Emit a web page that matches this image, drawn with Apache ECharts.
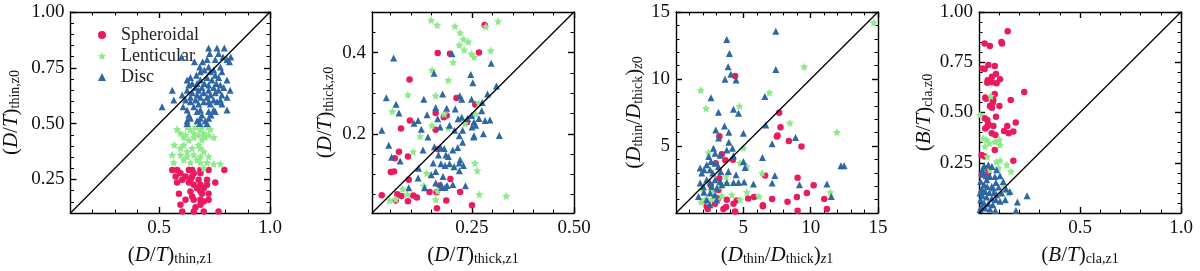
<!DOCTYPE html>
<html><head><meta charset="utf-8">
<script src="https://cdn.jsdelivr.net/npm/echarts@6/dist/echarts.min.js"></script>
<style>html,body{margin:0;padding:0;background:#fff}#c{width:1200px;height:271px}</style>
</head><body><div id="c"></div><script>
const seriesNames = ['Spheroidal', 'Lenticular', 'Disc'];

// Panel 1: (D/T)_thin
const sph1 = [[0.559,0.293],[0.581,0.293],[0.634,0.293],[0.649,0.293],[0.686,0.293],[0.723,0.293],[0.794,0.293],
[0.596,0.278],[0.656,0.278],[0.686,0.278],[0.574,0.263],[0.619,0.263],[0.649,0.263],
[0.604,0.249],[0.641,0.249],[0.678,0.249],[0.716,0.249],[0.581,0.237],[0.634,0.237],[0.753,0.237],
[0.656,0.226],[0.686,0.226],[0.716,0.226],[0.671,0.211],[0.701,0.211],[0.641,0.196],[0.686,0.196],
[0.589,0.186],[0.693,0.186],[0.723,0.186],[0.649,0.174],[0.619,0.159],[0.656,0.159],[0.686,0.159],[0.723,0.159],
[0.701,0.152],[0.596,0.137],[0.686,0.137],[0.664,0.126],[0.604,0.107],[0.656,0.107],[0.701,0.107],[0.768,0.107]];
const lent1 = [[0.626,0.484],[0.664,0.484],[0.693,0.484],[0.719,0.484],[0.581,0.475],[0.641,0.475],[0.686,0.475],[0.731,0.475],
[0.596,0.457],[0.656,0.457],[0.701,0.457],[0.619,0.449],[0.678,0.449],[0.723,0.449],
[0.611,0.439],[0.656,0.439],[0.708,0.439],[0.746,0.439],[0.634,0.427],[0.693,0.427],
[0.569,0.405],[0.611,0.405],[0.678,0.405],[0.596,0.390],[0.649,0.390],[0.686,0.390],[0.626,0.375],[0.701,0.375],
[0.559,0.360],[0.596,0.360],[0.656,0.360],[0.626,0.353],[0.686,0.353],[0.723,0.353],[0.611,0.338],[0.671,0.338],
[0.566,0.326],[0.641,0.326],[0.686,0.326],[0.716,0.326],[0.746,0.320],[0.776,0.320],[0.701,0.301]];
const disc1 = [[0.723,0.839],[0.761,0.839],[0.794,0.839],[0.728,0.814],[0.768,0.814],
[0.601,0.799],[0.788,0.799],[0.823,0.799],[0.716,0.787],[0.753,0.787],[0.806,0.787],
[0.659,0.777],[0.696,0.777],[0.817,0.777],[0.683,0.754],[0.723,0.754],[0.776,0.754],
[0.704,0.740],[0.746,0.740],[0.686,0.732],[0.731,0.732],[0.783,0.732],[0.668,0.717],[0.753,0.717],
[0.641,0.707],[0.716,0.707],[0.768,0.707],[0.626,0.695],[0.686,0.695],[0.738,0.695],[0.806,0.695],
[0.649,0.680],[0.671,0.680],[0.704,0.680],[0.758,0.680],[0.634,0.673],[0.723,0.673],[0.776,0.673],
[0.664,0.662],[0.693,0.662],[0.746,0.662],[0.791,0.662],
[0.559,0.650],[0.626,0.650],[0.678,0.650],[0.723,0.650],[0.768,0.650],[0.820,0.650],
[0.649,0.638],[0.701,0.638],[0.753,0.638],[0.604,0.628],[0.671,0.628],[0.731,0.628],[0.783,0.628],
[0.641,0.618],[0.686,0.618],[0.716,0.618],[0.806,0.618],
[0.566,0.606],[0.619,0.606],[0.664,0.606],[0.746,0.606],[0.776,0.606],
[0.641,0.598],[0.701,0.598],[0.723,0.598],[0.761,0.598],[0.678,0.588],[0.731,0.588],[0.783,0.588],
[0.513,0.576],[0.608,0.576],[0.656,0.576],[0.626,0.561],[0.686,0.561],[0.746,0.561],[0.806,0.561],
[0.671,0.554],[0.723,0.554],[0.753,0.554],[0.634,0.539],[0.693,0.539],[0.734,0.539],
[0.641,0.524],[0.686,0.524],[0.723,0.524],[0.626,0.513],[0.671,0.513],[0.708,0.513],
[0.626,0.501],[0.683,0.501],[0.716,0.501]];

// Panel 2: (D/T)_thick
const sph2 = [[0.281,0.468],[0.166,0.399],[0.267,0.400],[0.196,0.397],[0.097,0.334],[0.212,0.288],[0.258,0.272],
[0.161,0.251],[0.181,0.241],[0.188,0.245],[0.098,0.233],[0.076,0.213],[0.161,0.210],[0.238,0.229],
[0.071,0.156],[0.093,0.144],[0.061,0.140],[0.167,0.162],[0.051,0.106],[0.059,0.107],[0.095,0.087],[0.197,0.089],[0.171,0.073],
[0.029,0.049],[0.067,0.051],[0.077,0.047],[0.063,0.036],[0.093,0.034],[0.106,0.048],[0.115,0.043],
[0.146,0.057],[0.163,0.056],[0.221,0.057],[0.187,0.036],[0.164,0.017],[0.250,0.024]];
const lent2 = [[0.150,0.480],[0.165,0.468],[0.208,0.465],[0.221,0.449],[0.229,0.433],[0.241,0.427],[0.219,0.419],
[0.231,0.407],[0.249,0.397],[0.255,0.389],[0.204,0.376],[0.296,0.405],[0.314,0.477],[0.284,0.464],
[0.192,0.332],[0.152,0.357],[0.093,0.296],[0.161,0.294],[0.055,0.255],[0.182,0.249],[0.152,0.221],
[0.123,0.194],[0.106,0.156],[0.192,0.214],[0.233,0.225],[0.259,0.249],[0.267,0.275],
[0.207,0.119],[0.257,0.128],[0.263,0.109],[0.139,0.103],[0.132,0.072],[0.080,0.064],[0.092,0.051],
[0.166,0.059],[0.161,0.038],[0.048,0.036],[0.063,0.039],[0.268,0.051],[0.334,0.047]];
const disc2 = [[0.058,0.387],[0.201,0.397],[0.157,0.349],[0.247,0.346],[0.252,0.326],
[0.040,0.289],[0.064,0.273],[0.071,0.251],[0.132,0.285],[0.178,0.298],[0.161,0.265],[0.188,0.263],
[0.220,0.294],[0.225,0.285],[0.249,0.285],[0.275,0.277],[0.288,0.298],[0.310,0.318],[0.297,0.374],
[0.118,0.233],[0.140,0.247],[0.166,0.237],[0.209,0.261],[0.225,0.241],[0.239,0.238],[0.249,0.245],
[0.255,0.229],[0.259,0.221],[0.267,0.238],[0.274,0.257],[0.282,0.233],[0.294,0.234],[0.278,0.200],
[0.029,0.209],[0.108,0.226],[0.126,0.211],[0.142,0.192],[0.172,0.217],[0.195,0.221],[0.207,0.209],
[0.216,0.237],[0.219,0.195],[0.227,0.209],[0.254,0.192],[0.250,0.217],[0.255,0.195],[0.317,0.196],
[0.046,0.172],[0.053,0.142],[0.074,0.133],[0.130,0.160],[0.158,0.168],[0.173,0.166],[0.182,0.164],
[0.203,0.160],[0.215,0.166],[0.227,0.179],[0.168,0.148],[0.186,0.148],[0.192,0.144],[0.221,0.136],
[0.119,0.115],[0.118,0.091],[0.155,0.128],[0.161,0.107],[0.174,0.126],[0.184,0.122],[0.195,0.126],
[0.206,0.119],[0.219,0.128],[0.229,0.122],[0.219,0.109],[0.179,0.095],[0.150,0.099],
[0.161,0.079],[0.174,0.075],[0.176,0.068],[0.184,0.068],[0.189,0.073],[0.203,0.075],[0.234,0.072],
[0.095,0.067],[0.134,0.067]];

// Panel 3: D_thin / D_thick
const sph3 = [[4.39,10.22],[7.66,7.49],[7.76,6.40],[7.54,5.78],[7.49,5.70],[8.38,5.38],[9.32,4.96],[3.22,5.73],
[3.40,4.39],[3.67,3.94],[2.95,3.72],[4.22,3.97],[3.22,2.60],[6.62,2.80],[9.03,2.63],[10.22,2.08],
[9.72,1.49],[8.98,1.19],[11.01,1.04],[11.21,0.30],[9.03,0.17],[8.28,0.84],[7.14,1.04],[5.80,1.19],
[5.36,1.09],[6.45,0.57],[6.45,0.50],[4.51,0.94],[4.27,0.69],[3.52,0.30],[3.72,0.45],[4.39,0.12],
[2.28,0.50],[2.36,0.30],[2.90,0.69],[3.77,0.99],[3.15,1.12],[2.58,2.08],[3.15,1.71]];
const lent3 = [[14.68,14.21],[9.52,10.91],[6.94,8.98],[1.83,9.17],[2.23,7.81],[4.71,7.98],[8.46,6.72],[11.95,6.03],
[2.41,4.51],[5.01,4.86],[4.76,3.72],[5.26,3.47],[6.40,2.98],[3.77,2.23],[3.27,1.98],[4.14,1.36],
[5.26,1.56],[6.15,1.24],[4.76,0.99],[11.46,1.54],[1.86,0.84],[2.16,0.99],[2.41,0.87],[2.70,1.04],
[3.07,0.99],[3.40,1.29],[2.65,1.61],[3.72,2.73],[2.03,1.61]];
const disc3 = [[7.41,13.56],[3.77,12.94],[3.97,11.90],[3.87,10.91],[7.41,10.71],[4.07,10.36],[3.64,9.99],[4.46,9.92],
[2.60,8.60],[6.60,8.70],[4.27,7.74],[4.64,7.44],[3.15,7.51],[3.60,6.50],[6.67,6.57],[2.95,6.20],
[3.92,6.03],[5.01,5.95],[3.17,5.60],[8.88,5.63],[3.92,5.28],[2.78,4.84],[3.77,4.71],[4.19,4.84],
[2.90,4.46],[2.43,4.22],[3.27,4.31],[4.27,4.27],[7.14,5.16],[6.42,4.14],
[2.60,3.84],[2.90,3.72],[2.28,3.60],[3.15,3.47],[2.08,3.22],[2.53,3.22],[3.32,3.10],[1.79,3.35],
[1.91,2.98],[2.73,2.98],[3.89,3.10],[5.01,3.84],[5.13,3.40],[4.46,2.85],[2.28,2.48],[2.53,2.28],
[2.90,2.48],[3.27,2.36],[1.79,2.23],[2.03,1.98],[2.65,1.98],[3.03,1.86],[3.40,2.11],[3.77,2.28],
[4.27,2.28],[4.64,2.28],[5.06,2.31],[5.75,2.16],[7.34,2.80],[7.14,2.23],[9.17,2.11],[11.21,2.16],
[11.53,1.24],[12.25,3.52],[12.48,3.52],[2.53,1.49],[2.90,1.36],[2.08,1.54],[2.28,0.99],[1.67,1.24],
[3.03,0.99],[2.53,0.62]];

// Panel 4: (B/T)_cla
const sph4 = [[0.142,0.904],[0.111,0.851],[0.114,0.843],[0.028,0.843],[0.054,0.831],[0.017,0.719],[0.028,0.716],
[0.046,0.736],[0.078,0.731],[0.084,0.691],[0.064,0.678],[0.104,0.666],[0.043,0.661],[0.041,0.648],[0.064,0.650],
[0.087,0.645],[0.224,0.602],[0.078,0.592],[0.031,0.575],[0.035,0.569],[0.071,0.562],[0.068,0.549],[0.054,0.532],
[0.064,0.524],[0.101,0.532],[0.157,0.562],[0.084,0.479],[0.028,0.471],[0.041,0.463],[0.046,0.443],[0.041,0.430],
[0.031,0.421],[0.071,0.433],[0.063,0.397],[0.081,0.388],[0.124,0.408],[0.140,0.433],[0.147,0.397],[0.170,0.405],
[0.182,0.450],[0.078,0.314],[0.013,0.289],[0.028,0.281],[0.170,0.260],[0.041,0.223],[0.013,0.190],[0.045,0.195]];
const lent4 = [[0.058,0.582],[0.005,0.488],[0.021,0.372],[0.038,0.364],[0.051,0.347],[0.079,0.355],[0.101,0.364],
[0.104,0.339],[0.030,0.331],[0.041,0.281],[0.087,0.256],[0.104,0.261],[0.137,0.240],[0.158,0.207],[0.097,0.223],
[0.120,0.140],[0.147,0.099],[0.054,0.215]];
const disc4 = [[0.025,0.235],[0.046,0.240],[0.064,0.231],[0.087,0.215],[0.017,0.198],[0.035,0.185],[0.054,0.182],
[0.079,0.182],[0.104,0.185],[0.084,0.152],[0.120,0.157],[0.008,0.157],[0.025,0.140],[0.041,0.132],[0.063,0.132],
[0.097,0.129],[0.134,0.119],[0.012,0.119],[0.031,0.107],[0.051,0.102],[0.074,0.102],[0.087,0.091],[0.112,0.099],
[0.153,0.107],[0.018,0.086],[0.038,0.079],[0.063,0.074],[0.084,0.066],[0.104,0.058],[0.130,0.066],[0.008,0.066],
[0.025,0.050],[0.046,0.046],[0.068,0.041],[0.013,0.033],[0.031,0.025],[0.054,0.020],[0.081,0.013],[0.005,0.017],
[0.190,0.055],[0.238,0.086],[0.183,0.013],[0.071,0.124],[0.021,0.107],[0.005,0.099],[0.038,0.165],[0.017,0.215]];

const panelData = [[sph1, lent1, disc1], [sph2, lent2, disc2], [sph3, lent3, disc3], [sph4, lent4, disc4]];

// Axis ranges and ticks
const axisRanges = [[0.1, 1.0], [0.005, 0.5], [0, 15], [0, 1.0]];
const xMajorTicks = [[0.5, 1.0], [0.25, 0.5], [5, 10, 15], [0.5, 1.0]];
const xMajorLabels = [['0.5', '1.0'], ['0.25', '0.50'], ['5', '10', '15'], ['0.5', '1.0']];
const yMajorTicks = [[0.25, 0.5, 0.75, 1.0], [0.2, 0.4], [5, 10, 15], [0.25, 0.5, 0.75, 1.0]];
const yMajorLabels = [['0.25', '0.50', '0.75', '1.00'], ['0.2', '0.4'], ['5', '10', '15'], ['0.25', '0.50', '0.75', '1.00']];
const xMinorTicks = [
  [0.2, 0.3, 0.4, 0.6, 0.7, 0.8, 0.9],
  [0.05, 0.1, 0.15, 0.2, 0.3, 0.35, 0.4, 0.45],
  [1, 2, 3, 4, 6, 7, 8, 9, 11, 12, 13, 14],
  [0.1, 0.2, 0.3, 0.4, 0.6, 0.7, 0.8, 0.9]];
const yMinorTicks = [
  [0.15, 0.2, 0.3, 0.35, 0.4, 0.45, 0.55, 0.6, 0.65, 0.7, 0.8, 0.85, 0.9, 0.95],
  [0.05, 0.1, 0.15, 0.25, 0.3, 0.35, 0.45],
  [1, 2, 3, 4, 6, 7, 8, 9, 11, 12, 13, 14],
  [0.05, 0.1, 0.15, 0.2, 0.3, 0.35, 0.4, 0.45, 0.55, 0.6, 0.65, 0.7, 0.8, 0.85, 0.9, 0.95]];

const xNames = [
  '{p|(}{i|D}{p|/}{i|T}{p|)}{s|thin,z1}',
  '{p|(}{i|D}{p|/}{i|T}{p|)}{s|thick,z1}',
  '{p|(}{i|D}{s|thin}{p|/}{i|D}{s|thick}{p|)}{si|z}{s|1}',
  '{p|(}{i|B}{p|/}{i|T}{p|)}{s|cla,z1}'];
const yNames = [
  '{p|(}{i|D}{p|/}{i|T}{p|)}{s|thin,z0}',
  '{p|(}{i|D}{p|/}{i|T}{p|)}{s|thick,z0}',
  '{p|(}{i|D}{s|thin}{p|/}{i|D}{s|thick}{p|)}{si|z}{s|0}',
  '{p|(}{i|B}{p|/}{i|T}{p|)}{s|cla,z0}'];

const gridLefts = [69, 372, 676, 979];
const gridWidths = [201, 202, 202, 202];
const yNameGaps = [48, 36, 31, 44];

const FONT = '"Liberation Serif", "DejaVu Serif", serif';
const COLORS = ['#ea1a5e', '#8eea8a', '#2f67a5'];
const STAR = 'path://M0,-10L2.94,-4.05L9.51,-3.09L4.76,1.55L5.88,8.09L0,5L-5.88,8.09L-4.76,1.55L-9.51,-3.09L-2.94,-4.05Z';
const SYMBOLS = ['circle', STAR, 'triangle'];
const SIZES = [6.5, 8, 7];

const rich = {
  p: {fontFamily: FONT, fontSize: 21, lineHeight: 22, color: '#111'},
  i: {fontFamily: FONT, fontSize: 21, lineHeight: 22, fontStyle: 'italic', color: '#111'},
  s: {fontFamily: FONT, fontSize: 14, lineHeight: 12, verticalAlign: 'bottom', color: '#111'},
  si: {fontFamily: FONT, fontSize: 14, lineHeight: 12, verticalAlign: 'bottom', fontStyle: 'italic', color: '#111'}
};

function lab(ticks, labels) {
  return function (v) {
    for (let k = 0; k < ticks.length; k++) if (Math.abs(ticks[k] - v) < 1e-9) return labels[k];
    return '';
  };
}

const grid = [], xAxis = [], yAxis = [], series = [];
const lineStyle = {color: '#000', width: 1.4};
const minorStyle = {color: '#000', width: 1};
for (let g = 0; g < 4; g++) {
  grid.push({left: gridLefts[g], top: 12, width: gridWidths[g], height: 201});
  const [mn, mx] = axisRanges[g];
  const base = {gridIndex: g, type: 'value', min: mn, max: mx, splitLine: {show: false}};
  const labelStyle = {margin: 6, fontFamily: FONT, fontSize: 19, color: '#111', showMinLabel: true, showMaxLabel: true};
  // x axes: bottom major, bottom minor, top major, top minor
  xAxis.push(Object.assign({}, base, {
    position: 'bottom', axisLine: {show: true, onZero: false, lineStyle},
    axisTick: {show: true, inside: true, length: 6, customValues: xMajorTicks[g], lineStyle},
    axisLabel: Object.assign({show: true, customValues: xMajorTicks[g], formatter: lab(xMajorTicks[g], xMajorLabels[g])}, labelStyle),
    name: xNames[g], nameLocation: 'middle', nameGap: 31, nameTextStyle: {rich}
  }));
  xAxis.push(Object.assign({}, base, {
    position: 'bottom', axisLine: {show: false, onZero: false},
    axisTick: {show: true, inside: true, length: 3.5, customValues: xMinorTicks[g], lineStyle: minorStyle},
    axisLabel: {show: false}
  }));
  xAxis.push(Object.assign({}, base, {
    position: 'top', axisLine: {show: true, onZero: false, lineStyle},
    axisTick: {show: true, inside: true, length: 6, customValues: xMajorTicks[g], lineStyle},
    axisLabel: {show: false}
  }));
  xAxis.push(Object.assign({}, base, {
    position: 'top', axisLine: {show: false, onZero: false},
    axisTick: {show: true, inside: true, length: 3.5, customValues: xMinorTicks[g], lineStyle: minorStyle},
    axisLabel: {show: false}
  }));
  // y axes: left major, left minor, right major, right minor
  yAxis.push(Object.assign({}, base, {
    position: 'left', axisLine: {show: true, onZero: false, lineStyle},
    axisTick: {show: true, inside: true, length: 6, customValues: yMajorTicks[g], lineStyle},
    axisLabel: Object.assign({show: true, customValues: yMajorTicks[g], formatter: lab(yMajorTicks[g], yMajorLabels[g])}, labelStyle),
    name: yNames[g], nameLocation: 'middle', nameGap: yNameGaps[g], nameTextStyle: {rich}
  }));
  yAxis.push(Object.assign({}, base, {
    position: 'left', axisLine: {show: false, onZero: false},
    axisTick: {show: true, inside: true, length: 3.5, customValues: yMinorTicks[g], lineStyle: minorStyle},
    axisLabel: {show: false}
  }));
  yAxis.push(Object.assign({}, base, {
    position: 'right', axisLine: {show: true, onZero: false, lineStyle},
    axisTick: {show: true, inside: true, length: 6, customValues: yMajorTicks[g], lineStyle},
    axisLabel: {show: false}
  }));
  yAxis.push(Object.assign({}, base, {
    position: 'right', axisLine: {show: false, onZero: false},
    axisTick: {show: true, inside: true, length: 3.5, customValues: yMinorTicks[g], lineStyle: minorStyle},
    axisLabel: {show: false}
  }));

  for (let s = 0; s < 3; s++) {
    series.push({
      type: 'scatter', name: seriesNames[s], xAxisIndex: g * 4, yAxisIndex: g * 4,
      data: panelData[g][s], symbol: SYMBOLS[s], symbolSize: SIZES[s],
      itemStyle: {color: COLORS[s], opacity: 1}, z: 2 + s
    });
  }
  series.push({
    type: 'line', name: 'one-to-one', xAxisIndex: g * 4, yAxisIndex: g * 4,
    data: [[mn, mn], [mx, mx]], symbol: 'none', lineStyle: {color: '#000', width: 1.3}, z: 6, silent: true
  });
}

const chart = echarts.init(document.getElementById('c'), null, {renderer: 'canvas'});
chart.setOption({
  animation: false,
  backgroundColor: '#fff',
  grid, xAxis, yAxis, series,
  legend: {
    left: 93, top: 21, orient: 'vertical', itemGap: 3, itemWidth: 8, itemHeight: 8,
    textStyle: {fontFamily: FONT, fontSize: 18, color: '#222', padding: [0, 0, 0, 10]},
    data: [{name: 'Spheroidal', icon: 'circle'}, {name: 'Lenticular', icon: STAR}, {name: 'Disc', icon: 'triangle'}]
  }
});
</script></body></html>
